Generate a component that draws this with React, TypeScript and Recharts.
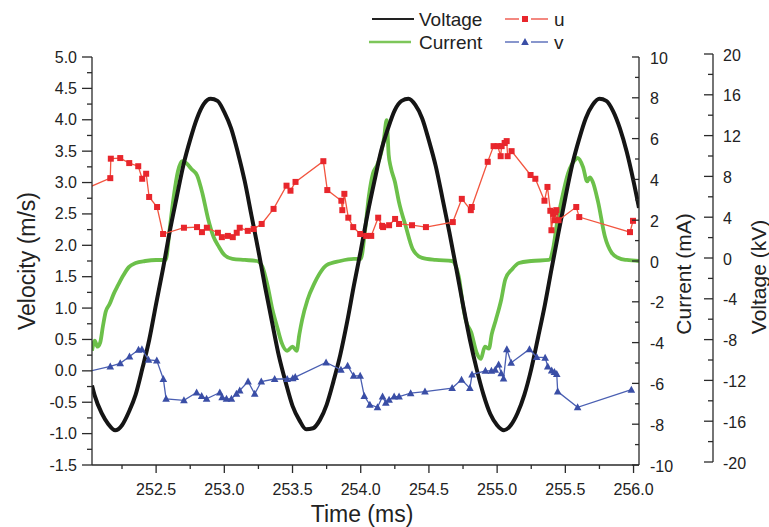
import React from 'react';
import { LineChart, Line, XAxis, YAxis } from 'recharts';

const FONT = '"Liberation Sans", Arial, Helvetica, sans-serif';
const AXIS = '#2a2a2a';
const TEXT = '#222222';

// ---- Voltage (kV) vs time (ms)
const voltageTime = [
  252.03, 252.05, 252.1, 252.15, 252.2, 252.25, 252.3, 252.35, 252.4, 252.45, 252.5, 252.55, 252.6, 252.65,
  252.7, 252.75, 252.8, 252.85, 252.9, 252.95, 253.0, 253.05, 253.1, 253.15, 253.2, 253.25, 253.3, 253.35,
  253.4, 253.45, 253.5, 253.55, 253.6, 253.65, 253.7, 253.75, 253.8, 253.85, 253.9, 253.95, 254.0, 254.05,
  254.1, 254.15, 254.2, 254.25, 254.3, 254.35, 254.4, 254.45, 254.5, 254.55, 254.6, 254.65, 254.7, 254.75,
  254.8, 254.85, 254.9, 254.95, 255.0, 255.05, 255.1, 255.15, 255.2, 255.25, 255.3, 255.35, 255.4, 255.45,
  255.5, 255.55, 255.6, 255.65, 255.7, 255.75, 255.8, 255.85, 255.9, 255.95, 256.0, 256.04,
];
const voltageKV = [
  -12.2, -13.2, -14.9, -16.0, -16.6, -16.1, -14.8, -13.1, -10.5, -7.7, -4.2, -0.8, 2.9, 6.2,
  9.4, 11.9, 14.0, 15.4, 15.9, 15.7, 14.6, 13.0, 10.6, 7.8, 4.4, 1.0, -2.6, -6.0,
  -9.3, -11.9, -14.2, -15.6, -16.5, -16.4, -15.6, -14.1, -11.8, -9.2, -6.0, -2.4, 1.0, 4.6,
  7.8, 10.8, 13.0, 14.8, 15.7, 15.9, 15.3, 14.0, 11.8, 9.3, 6.1, 2.8, -0.7, -4.3,
  -7.7, -10.6, -13.1, -15.0, -16.1, -16.6, -16.1, -14.9, -13.1, -10.6, -7.5, -4.3, -0.7, 2.8,
  6.2, 9.4, 11.9, 14.0, 15.3, 15.9, 15.7, 14.7, 13.0, 10.7, 7.8, 5.2,
];

// ---- Current (mA) vs time (ms)
const currentTime = [
  252.03, 252.05, 252.07, 252.09, 252.11, 252.13, 252.16, 252.19, 252.22, 252.26, 252.3, 252.35, 252.42,
  252.5, 252.57, 252.6, 252.63, 252.66, 252.69, 252.72, 252.76, 252.8, 252.84, 252.88, 252.92, 252.96,
  253.0, 253.06, 253.15, 253.24, 253.28, 253.32, 253.35, 253.39, 253.42, 253.46, 253.5, 253.53, 253.55,
  253.57, 253.61, 253.66, 253.7, 253.75, 253.85, 253.95, 254.0, 254.03, 254.06, 254.09, 254.12, 254.15,
  254.17, 254.19, 254.205, 254.22, 254.25, 254.28, 254.33, 254.38, 254.45, 254.55, 254.67, 254.7, 254.72,
  254.75, 254.77, 254.81, 254.85, 254.88, 254.91, 254.94, 254.96, 254.99, 255.03, 255.06, 255.11, 255.16,
  255.25, 255.38, 255.41, 255.44, 255.47, 255.52, 255.57, 255.59, 255.63, 255.66, 255.68, 255.7, 255.74,
  255.79, 255.84, 255.89, 255.95, 256.04,
];
const currentMA = [
  -4.4, -3.9, -4.2, -4.0, -3.2, -2.5, -2.1, -1.6, -1.2, -0.7, -0.3, -0.1, 0.0,
  0.05, 0.05, 1.6, 3.2, 4.4, 4.9, 4.8, 4.5, 4.2, 3.3, 2.1, 1.2, 0.7,
  0.3, 0.1, 0.05, 0.0, -0.3, -1.3, -2.3, -3.3, -4.0, -4.4, -4.2, -4.4, -3.6,
  -2.9, -1.9, -1.1, -0.6, -0.2, 0.0, 0.1, 0.1, 1.4, 3.2, 4.3, 4.7, 5.3,
  6.0, 6.9, 5.2, 4.6, 3.9, 2.9, 1.7, 0.6, 0.15, 0.05, 0.0, -0.3, -0.8,
  -2.2, -2.9, -3.5, -4.5, -4.8, -4.2, -4.3, -3.6, -2.9, -1.9, -0.9, -0.4, -0.1,
  0.0, 0.05, 0.6, 1.9, 2.9, 4.3, 4.95, 5.05, 4.6, 3.9, 4.1, 3.9, 2.9,
  1.2, 0.4, 0.15, 0.05, 0.0,
];

// ---- u velocity (m/s)
const uTime = [
  251.96, 252.164, 252.168, 252.237, 252.303, 252.369, 252.398, 252.427, 252.449, 252.507, 252.551, 252.704,
  252.8, 252.836, 252.872, 252.953, 252.982, 253.026, 253.062, 253.091, 253.113, 253.172, 253.215, 253.274,
  253.361, 253.456, 253.485, 253.522, 253.726, 253.755, 253.858, 253.865, 253.88, 253.909, 253.945, 253.996,
  254.04, 254.077, 254.128, 254.157, 254.164, 254.208, 254.252, 254.281, 254.376, 254.478, 254.675, 254.741,
  254.807, 254.814, 254.931, 254.974, 255.004, 255.026, 255.033, 255.055, 255.07, 255.077, 255.106, 255.245,
  255.28, 255.347, 255.369, 255.39, 255.398, 255.412, 255.42, 255.427, 255.434, 255.45, 255.58, 255.602,
  255.974, 255.996,
];
const uVel = [
  2.88, 3.07, 3.38, 3.39, 3.31, 3.26, 3.06, 3.14, 2.77, 2.61, 2.18, 2.28,
  2.29, 2.21, 2.28, 2.2, 2.13, 2.15, 2.13, 2.2, 2.28, 2.23, 2.26, 2.34,
  2.58, 2.95, 2.87, 3.01, 3.34, 2.88, 2.71, 2.56, 2.82, 2.44, 2.29, 2.18,
  2.15, 2.15, 2.44, 2.31, 2.29, 2.32, 2.42, 2.34, 2.32, 2.29, 2.37, 2.74,
  2.56, 2.61, 3.33, 3.58, 3.58, 3.42, 3.58, 3.63, 3.66, 3.42, 3.5, 3.12,
  3.06, 2.71, 2.93, 2.55, 2.24, 2.5, 2.4, 2.53, 2.56, 2.4, 2.61, 2.45,
  2.21, 2.39,
];

// ---- v velocity (m/s)
const vTime = [
  251.96, 252.164, 252.237, 252.305, 252.371, 252.396, 252.444, 252.505, 252.553, 252.573, 252.704, 252.797,
  252.834, 252.87, 252.967, 252.984, 253.016, 253.052, 253.089, 253.113, 253.174, 253.223, 253.271, 253.369,
  253.461, 253.502, 253.52, 253.746, 253.855, 253.904, 253.948, 253.996, 254.026, 254.067, 254.123, 254.16,
  254.184, 254.208, 254.245, 254.281, 254.366, 254.471, 254.67, 254.739, 254.8, 254.816, 254.914, 254.958,
  254.986, 255.011, 255.03, 255.047, 255.071, 255.103, 255.237, 255.29, 255.352, 255.371, 255.4, 255.42,
  255.437, 255.444, 255.59, 255.984,
];
const vVel = [
  -0.03, 0.07, 0.12, 0.23, 0.335, 0.345, 0.175, 0.164, -0.13, -0.446, -0.47, -0.345,
  -0.4, -0.446, -0.345, -0.42, -0.446, -0.446, -0.366, -0.313, -0.17, -0.366, -0.17, -0.13,
  -0.13, -0.117, -0.1, 0.133, 0.016, 0.08, -0.08, -0.08, -0.4, -0.54, -0.58, -0.41,
  -0.51, -0.46, -0.41, -0.41, -0.355, -0.33, -0.275, -0.14, -0.275, -0.06, 0.0, 0.0,
  0.016, 0.1, -0.04, -0.12, 0.345, 0.13, 0.345, 0.22, 0.21, 0.07, 0.005, -0.02,
  -0.05, -0.33, -0.58, -0.3,
];

// ---- axis ticks
const timeMajorTicks = [252.5, 253.0, 253.5, 254.0, 254.5, 255.0, 255.5, 256.0];
const velocityMajorTicks = [-1.5, -1.0, -0.5, 0.0, 0.5, 1.0, 1.5, 2.0, 2.5, 3.0, 3.5, 4.0, 4.5, 5.0];
const currentMajorTicks = [-10, -8, -6, -4, -2, 0, 2, 4, 6, 8, 10];
const voltageMajorTicks = [-20, -16, -12, -8, -4, 0, 4, 8, 12, 16, 20];

const TIME_DOMAIN: [number, number] = [252.03, 256.04];

const zip = (ts: number[], ys: number[]) => ts.map((t, i) => ({ t, y: ys[i] }));
const voltageData = zip(voltageTime, voltageKV);
const currentData = zip(currentTime, currentMA);
const uData = zip(uTime, uVel);
const vData = zip(vTime, vVel);

const withMinor = (major: number[], lo: number) => {
  const out: number[] = [];
  const step = major[1] - major[0];
  if (major[0] - step / 2 >= lo) out.push(major[0] - step / 2);
  major.forEach((m, i) => {
    out.push(m);
    if (i < major.length - 1) out.push((m + major[i + 1]) / 2);
  });
  return out;
};
const isMajor = (major: number[], v: number) => major.some((m) => Math.abs(m - v) < 1e-6);

const LeftTick = (props: any) => {
  const { x, y, payload } = props;
  const v = payload.value;
  const major = isMajor(velocityMajorTicks, v);
  return (
    <g>
      <line x1={x - (major ? 10 : 5)} x2={x} y1={y} y2={y} stroke={AXIS} strokeWidth={1.3} />
      {major && (
        <text x={x - 15} y={y} textAnchor="end" dominantBaseline="central" fontSize={16} fontFamily={FONT} fill={TEXT}>
          {v.toFixed(1)}
        </text>
      )}
    </g>
  );
};

const BottomTick = (props: any) => {
  const { x, y, payload } = props;
  const v = payload.value;
  const major = isMajor(timeMajorTicks, v);
  return (
    <g>
      <line x1={x} x2={x} y1={y} y2={y + (major ? 8 : 4)} stroke={AXIS} strokeWidth={1.3} />
      {major && (
        <text x={x} y={y + 24} textAnchor="middle" dominantBaseline="central" fontSize={16} fontFamily={FONT} fill={TEXT}>
          {v.toFixed(1)}
        </text>
      )}
    </g>
  );
};

const CurrentTick = (props: any) => {
  const { x, y, payload } = props;
  const v = payload.value;
  const major = isMajor(currentMajorTicks, v);
  return (
    <g>
      <line x1={x - (major ? 7 : 4)} x2={x} y1={y} y2={y} stroke={AXIS} strokeWidth={1.3} />
      {major && (
        <text x={x + 11} y={y + 1} textAnchor="start" dominantBaseline="central" fontSize={16} fontFamily={FONT} fill={TEXT}>
          {String(v)}
        </text>
      )}
    </g>
  );
};

const VoltageTick = (props: any) => {
  const { x, payload } = props;
  const y = props.y - 3;
  const v = payload.value;
  const major = isMajor(voltageMajorTicks, v);
  return (
    <g>
      <line x1={x - (major ? 9 : 5)} x2={x} y1={y} y2={y} stroke={AXIS} strokeWidth={1.3} />
      {major && (
        <text x={x + 10} y={y + 1} textAnchor="start" dominantBaseline="central" fontSize={16} fontFamily={FONT} fill={TEXT}>
          {String(v)}
        </text>
      )}
    </g>
  );
};

const SquareDot = (props: any) => {
  const { cx, cy, index } = props;
  if (cx == null || cy == null) return <g key={`us-${index}`} />;
  return <rect key={`us-${index}`} x={cx - 3} y={cy - 3} width={6} height={6} fill="#e8262c" />;
};

const TriangleDot = (props: any) => {
  const { cx, cy, index } = props;
  if (cx == null || cy == null) return <g key={`vt-${index}`} />;
  return (
    <polygon
      key={`vt-${index}`}
      points={`${cx},${cy - 4} ${cx - 3.8},${cy + 3} ${cx + 3.8},${cy + 3}`}
      fill="#3a4ea6"
    />
  );
};

export default function App() {
  return (
    <div style={{ position: 'absolute', left: 0, top: 0, width: 769, height: 527, background: '#fff' }}>
      <LineChart width={769} height={527} margin={{ top: 57, right: 0, bottom: 0, left: 0 }}>
        <XAxis
          dataKey="t"
          type="number"
          domain={TIME_DOMAIN}
          allowDataOverflow
          ticks={withMinor(timeMajorTicks, TIME_DOMAIN[0])}
          interval={0}
          height={62}
          tickSize={0}
          tickMargin={0}
          tickLine={false}
          axisLine={{ stroke: AXIS, strokeWidth: 1.3 }}
          tick={BottomTick}
        />
        <YAxis
          yAxisId="vel"
          orientation="left"
          type="number"
          domain={[-1.5, 5]}
          ticks={withMinor(velocityMajorTicks, -1.5)}
          interval={0}
          width={92}
          tickSize={0}
          tickMargin={0}
          tickLine={false}
          axisLine={{ stroke: AXIS, strokeWidth: 1.3 }}
          tick={LeftTick}
        />
        <YAxis
          yAxisId="cur"
          orientation="right"
          type="number"
          domain={[-10, 10]}
          ticks={withMinor(currentMajorTicks, -10)}
          interval={0}
          width={74}
          tickSize={0}
          tickMargin={0}
          tickLine={false}
          axisLine={{ stroke: AXIS, strokeWidth: 1.3 }}
          tick={CurrentTick}
        />
        <YAxis
          yAxisId="volt"
          orientation="right"
          type="number"
          domain={[-20, 20]}
          ticks={withMinor(voltageMajorTicks, -20)}
          interval={0}
          width={56}
          tickSize={0}
          tickMargin={0}
          tickLine={false}
          axisLine={{ stroke: AXIS, strokeWidth: 1.3, transform: 'translate(0,-3)' }}
          tick={VoltageTick}
        />
        <Line
          yAxisId="cur"
          data={currentData}
          dataKey="y"
          type="monotone"
          stroke="#6cc04a"
          strokeWidth={3.8}
          dot={false}
          isAnimationActive={false}
        />
        <Line
          yAxisId="volt"
          data={voltageData}
          dataKey="y"
          type="monotone"
          stroke="#151515"
          strokeWidth={4}
          dot={false}
          isAnimationActive={false}
        />
        <Line
          yAxisId="vel"
          data={uData}
          dataKey="y"
          type="linear"
          stroke="#f2553f"
          strokeWidth={1.3}
          dot={SquareDot}
          isAnimationActive={false}
        />
        <Line
          yAxisId="vel"
          data={vData}
          dataKey="y"
          type="linear"
          stroke="#4a5fb2"
          strokeWidth={1.3}
          dot={TriangleDot}
          isAnimationActive={false}
        />
      </LineChart>
      <svg
        width={769}
        height={527}
        style={{ position: 'absolute', left: 0, top: 0, pointerEvents: 'none' }}
        fontFamily={FONT}
      >
        {/* legend */}
        <line x1={372} x2={414} y1={19} y2={19} stroke="#222" strokeWidth={2} />
        <text x={419} y={19} dominantBaseline="central" fontSize={19} fill={TEXT}>Voltage</text>
        <line x1={369} x2={411} y1={42} y2={42} stroke="#7dc65a" strokeWidth={2.5} />
        <text x={419} y={42} dominantBaseline="central" fontSize={19} fill={TEXT}>Current</text>
        <line x1={505} x2={519} y1={19} y2={19} stroke="#f06a60" strokeWidth={1.6} />
        <line x1={531} x2={548} y1={19} y2={19} stroke="#f06a60" strokeWidth={1.6} />
        <rect x={522} y={16} width={6} height={6} fill="#e8262c" />
        <text x={554} y={19} dominantBaseline="central" fontSize={19} fill={TEXT}>u</text>
        <line x1={505} x2={519} y1={42} y2={42} stroke="#6a7cc0" strokeWidth={1.6} />
        <line x1={531} x2={548} y1={42} y2={42} stroke="#6a7cc0" strokeWidth={1.6} />
        <polygon points="525,38 521.2,45 528.8,45" fill="#3a4ea6" />
        <text x={554} y={42} dominantBaseline="central" fontSize={19} fill={TEXT}>v</text>
        {/* axis titles */}
        <text x={27} y={261} transform="rotate(-90 27 261)" textAnchor="middle" dominantBaseline="central" fontSize={23} fill={TEXT}>
          Velocity (m/s)
        </text>
        <text x={362} y={514} textAnchor="middle" dominantBaseline="central" fontSize={23} fill={TEXT}>
          Time (ms)
        </text>
        <text x={683} y={274} transform="rotate(-90 683 274)" textAnchor="middle" dominantBaseline="central" fontSize={21} fill={TEXT}>
          Current (mA)
        </text>
        <text x={758} y={277} transform="rotate(-90 758 277)" textAnchor="middle" dominantBaseline="central" fontSize={21} fill={TEXT}>
          Voltage (kV)
        </text>
      </svg>
    </div>
  );
}
